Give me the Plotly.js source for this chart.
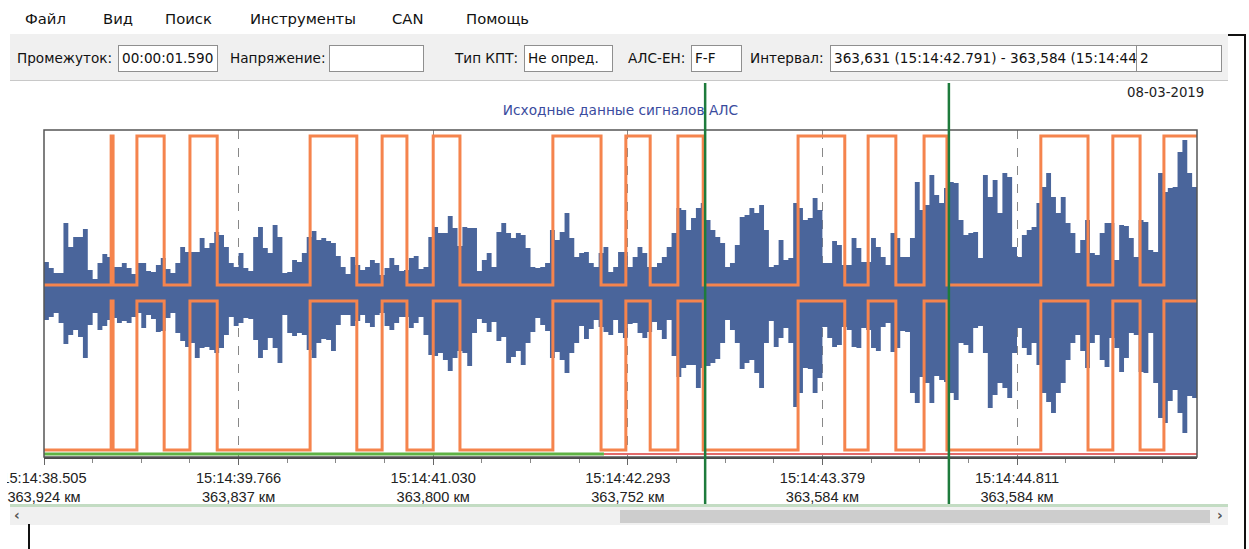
<!DOCTYPE html>
<html><head><meta charset="utf-8">
<script src="https://cdn.plot.ly/plotly-3.0.1.min.js"></script>
<style>
body{margin:0;background:#fff;}
#wrap{position:relative;width:1249px;height:549px;overflow:hidden;font-family:"DejaVu Sans",sans-serif;color:#111;}
#chart{position:absolute;left:0;top:0;width:1249px;height:549px;}
.abs{position:absolute;white-space:nowrap;}
.menu{top:10px;font-size:14.8px;}
#toolbar{left:10px;top:34px;width:1218px;height:46px;background:#f0f0f0;border-bottom:1px solid #c8c8c8;}
.lbl{top:50px;font-size:13.6px;}
.box{top:45px;height:27px;background:#fff;border:1px solid #8f8f8f;box-sizing:border-box;font-size:13.6px;line-height:25px;padding-left:3px;overflow:hidden;}
</style></head>
<body><div id="wrap">
<div id="chart"></div>
<!-- menu -->
<div class="abs menu" style="left:25px">Файл</div>
<div class="abs menu" style="left:103px">Вид</div>
<div class="abs menu" style="left:165px">Поиск</div>
<div class="abs menu" style="left:250px">Инструменты</div>
<div class="abs menu" style="left:392px">CAN</div>
<div class="abs menu" style="left:466px">Помощь</div>
<!-- toolbar -->
<div class="abs" id="toolbar"></div>
<div class="abs lbl" style="left:17px">Промежуток:</div>
<div class="abs box" style="left:118px;width:100px">00:00:01.590</div>
<div class="abs lbl" style="left:230px">Напряжение:</div>
<div class="abs box" style="left:329px;width:95px"></div>
<div class="abs lbl" style="left:455px">Тип КПТ:</div>
<div class="abs box" style="left:524px;width:89px">Не опред.</div>
<div class="abs lbl" style="left:628px">АЛС-ЕН:</div>
<div class="abs box" style="left:691px;width:51px">F-F</div>
<div class="abs lbl" style="left:750px">Интервал:</div>
<div class="abs box" style="left:830px;width:307px">363,631 (15:14:42.791) - 363,584 (15:14:44</div>
<div class="abs box" style="left:1136px;width:86px">2</div>
<!-- left clip of panel -->
<div class="abs" style="left:0;top:462px;width:7px;height:44px;background:#fff"></div>
<!-- scroll bar -->
<div class="abs" style="left:10px;top:504px;width:1218px;height:3px;background:#c3dcc3"></div>
<div class="abs" style="left:10px;top:507px;width:1218px;height:18px;background:#f0f0f0"></div>
<div class="abs" style="left:620px;top:510px;width:590px;height:13px;background:#cdcdcd"></div>
<div class="abs" style="left:14px;top:507px;font-size:14px;color:#555;font-weight:bold">‹</div>
<div class="abs" style="left:1217px;top:507px;font-size:14px;color:#555;font-weight:bold">›</div>
<!-- frame lines -->
<div class="abs" style="left:1228px;top:34px;width:18px;height:2px;background:#111"></div>
<div class="abs" style="left:1244px;top:34px;width:2px;height:515px;background:#111"></div>
<div class="abs" style="left:28px;top:524px;width:2px;height:25px;background:#111"></div>
</div>
<script>
// ---- data ----
// sample index axis (one sample = 1/40 of a major division)
const upperEnv = [31,25,20,20,70,46,56,56,64,23,
14,30,39,36,26,26,30,25,19,30,
30,22,21,28,35,24,20,30,46,41,
41,41,55,45,50,61,58,46,30,26,
40,25,22,56,66,45,40,68,56,20,
21,33,31,40,56,62,53,55,52,50,
37,26,19,36,28,23,26,33,30,18,
25,35,28,22,23,35,37,24,26,56,
66,60,60,77,65,47,66,65,65,22,
33,40,26,61,70,60,55,60,58,45,
26,25,26,30,63,53,61,80,55,36,
40,41,30,26,40,46,21,26,41,41,
26,36,46,40,26,26,30,36,46,60,
85,83,63,75,85,90,73,63,56,50,
26,30,48,76,78,85,80,88,63,26,
28,53,33,35,90,85,73,75,95,83,
30,30,52,48,28,28,55,45,31,31,
55,46,36,28,60,55,36,36,55,111,
83,88,118,98,90,105,111,110,73,58,
60,61,35,118,96,113,80,120,116,46,
36,58,63,66,90,106,120,96,80,96,
70,60,40,53,73,40,38,60,70,70,
33,68,67,55,36,73,71,43,41,120,
101,105,106,141,153,120,106,130];
const lowerEnv = [27,24,20,30,51,42,37,44,65,32,
20,37,33,27,25,30,28,30,24,20,
35,22,26,39,38,25,20,40,48,54,
50,65,55,54,57,60,55,42,24,33,
30,25,26,47,65,57,45,55,70,22,
40,43,40,42,57,65,50,46,47,58,
32,22,22,33,28,22,30,34,22,20,
33,37,30,24,24,35,30,24,42,62,
63,60,67,78,65,58,60,73,40,26,
30,39,29,48,44,70,64,58,72,50,
39,25,32,38,65,59,67,80,60,50,
33,46,36,27,34,39,42,27,40,45,
31,30,40,45,39,29,37,46,27,63,
84,75,72,72,95,75,73,70,66,50,
27,37,50,76,70,67,80,95,50,28,
54,45,35,50,114,100,75,76,100,85,
34,45,54,52,34,37,54,55,35,37,
55,58,34,30,59,55,38,39,100,110,
84,90,110,83,87,89,100,107,50,52,
60,35,33,60,115,102,90,95,105,60,
35,55,62,50,72,100,109,120,100,90,
67,50,42,58,75,50,42,67,74,45,
55,79,65,40,42,79,80,40,90,125,
130,108,97,120,140,103,105,107];
// ALS code signal: transition points (sample index), starting in low state
const alsEdges = [13.8,14.2,19.1,24.7,30.0,35.6,54.7,64.3,69.5,74.6,80.0,85.5,
104.6,114.5,119.6,124.6,130.3,135.5,155.0,164.6,169.4,175.1,180.9,185.6,
204.9,214.6,219.7,225.3,230.2];
const alsStart = 0;
const tickIdx = [0,40,80,120,160,200];
const tickTimes = ["15:14:38.505","15:14:39.766","15:14:41.030","15:14:42.293","15:14:43.379","15:14:44.811"];
const tickKm = ["363,924 км","363,837 км","363,800 км","363,752 км","363,584 км","363,584 км"];
const statusOkUntil = 115.1;   // green part of the status strip
const cursorIdx = [135.9, 186.0];
const xEnd = 237;

// ---- build traces ----
const idx = upperEnv.map((_, i) => i);
function wave(hi, lo) {
  let s = alsStart;
  const xs = [0], ys = [s ? hi : lo];
  alsEdges.forEach(e => { xs.push(e); ys.push(s ? hi : lo); s = 1 - s; xs.push(e); ys.push(s ? hi : lo); });
  xs.push(xEnd); ys.push(s ? hi : lo);
  return {xs, ys};
}
const HI = 157, LO = 8;
const wUp = wave(HI, LO), wDn = wave(-LO, -HI);
const blue = '#4a659b', orange = '#f5844d';
const traces = [
  {x: idx, y: upperEnv, type: 'scatter', mode: 'lines', line: {shape: 'hv', width: 0, color: blue}, fill: 'tozeroy', fillcolor: blue, hoverinfo: 'skip'},
  {x: idx, y: lowerEnv.map(v => -v), type: 'scatter', mode: 'lines', line: {shape: 'hv', width: 0, color: blue}, fill: 'tozeroy', fillcolor: blue, hoverinfo: 'skip'},
  {x: wUp.xs, y: wUp.ys, type: 'scatter', mode: 'lines', line: {color: orange, width: 3}},
  {x: wDn.xs, y: wDn.ys, type: 'scatter', mode: 'lines', line: {color: orange, width: 3}},
  {x: [0, statusOkUntil], y: [-161, -161], type: 'scatter', mode: 'lines', line: {color: '#5fb244', width: 3}},
  {x: [statusOkUntil, xEnd], y: [-161, -161], type: 'scatter', mode: 'lines', line: {color: '#e26b6b', width: 2}}
];
const shapes = cursorIdx.map(c => ({type: 'line', xref: 'x', yref: 'paper', x0: c, x1: c, y0: -0.147, y1: 1.144, line: {color: '#1e7b3c', width: 2.5}, layer: 'above'}));
const layout = {
  width: 1249, height: 549,
  margin: {l: 44, r: 52, t: 130, b: 92, pad: 0},
  paper_bgcolor: '#ffffff', plot_bgcolor: '#ffffff',
  showlegend: false,
  title: {text: 'Исходные данные сигналов АЛС', font: {family: 'DejaVu Sans', size: 13.7, color: '#3a4b9e'}, x: 0.4968, xanchor: 'center', yref: 'container', y: 1 - 110/549, yanchor: 'middle'},
  xaxis: {range: [0, xEnd], tickmode: 'array', tickvals: tickIdx,
    ticktext: tickTimes.map((t, i) => t + '<br>' + tickKm[i]),
    ticks: 'outside', ticklen: 6, tickcolor: '#666', tickwidth: 1,
    minor: {tickmode: 'linear', tick0: 0, dtick: 10, ticks: 'outside', ticklen: 4, tickcolor: '#888', showgrid: false},
    showgrid: true, gridcolor: '#888', griddash: 'dash', gridwidth: 1,
    showline: true, linecolor: '#4a4a4a', linewidth: 2, mirror: false, zeroline: false,
    tickfont: {family: 'Liberation Sans, Arial', size: 14.6, color: '#222'}, fixedrange: true},
  yaxis: {range: [-164, 163], showticklabels: false, ticks: '', showgrid: false, zeroline: false, showline: false, fixedrange: true},
  shapes: [
    {type: 'rect', xref: 'paper', yref: 'paper', x0: 0, x1: 1, y0: 0, y1: 1, line: {color: '#555', width: 1.5}, layer: 'above'},
    ...shapes
  ],
  annotations: [
    {text: '08-03-2019', xref: 'paper', yref: 'paper', x: 1.008, y: 1.116, xanchor: 'right', yanchor: 'middle', showarrow: false, font: {family: 'DejaVu Sans', size: 13.3, color: '#222'}}
  ]
};
Plotly.newPlot('chart', traces, layout, {displayModeBar: false, staticPlot: true});
</script>
</body></html>
